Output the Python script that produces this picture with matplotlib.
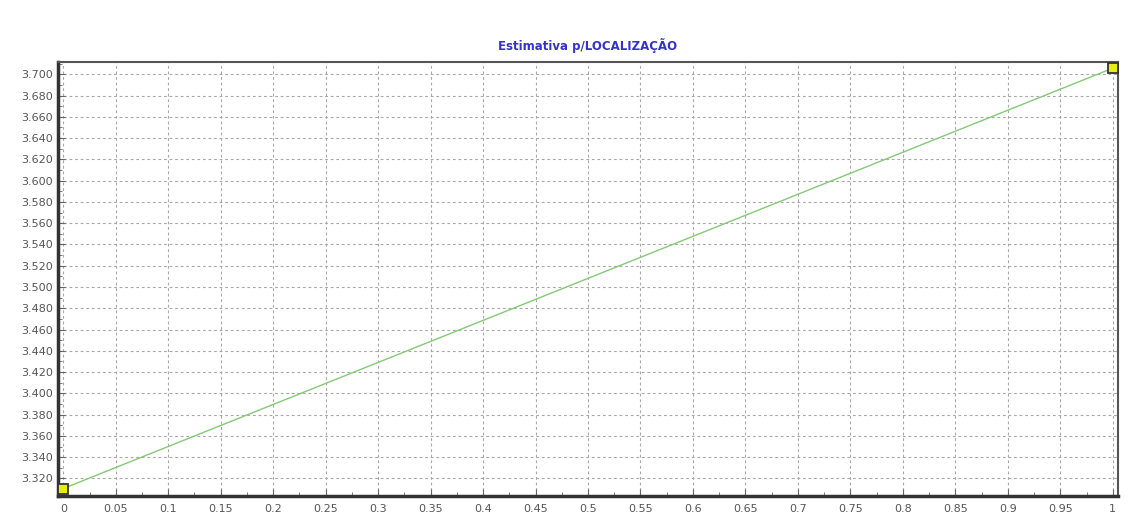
import numpy as np
import matplotlib.pyplot as plt
from matplotlib.ticker import MultipleLocator, FuncFormatter

# data
x_vals = [0.0, 1.0]
y_vals = [3.3105, 3.7057]
title = 'Estimativa p/LOCALIZAÇÃO'

fig = plt.figure(figsize=(11.31, 5.15), dpi=100)
ax = fig.add_axes([0.0513, 0.0369, 0.9372, 0.8427])

ax.plot(x_vals, y_vals, color='#86c878', lw=1.0, zorder=3)
ax.plot(x_vals, y_vals, ls='none', marker='s', ms=7.5, mfc='#e6ee10', mec='#333333', mew=1.3,
        zorder=4, clip_on=False)

ax.set_xlim(-0.005, 1.005)
ax.set_ylim(3.3035, 3.7115)

ax.xaxis.set_major_locator(MultipleLocator(0.05))
ax.xaxis.set_minor_locator(MultipleLocator(0.025))
ax.yaxis.set_major_locator(MultipleLocator(0.02))
ax.yaxis.set_minor_locator(MultipleLocator(0.01))
ax.xaxis.set_major_formatter(FuncFormatter(lambda v, p: ('%.2f' % v).rstrip('0').rstrip('.')))
ax.yaxis.set_major_formatter(FuncFormatter(lambda v, p: '%.3f' % v))

ax.grid(True, which='major', ls=(0, (2.5, 2.5)), color='#a8a8a8', lw=0.8)
ax.tick_params(which='both', direction='in', colors='#666666', labelsize=8, labelcolor='#555555')
ax.tick_params(which='major', length=5)
ax.tick_params(which='minor', length=3)
ax.tick_params(axis='x', pad=6)

for side in ['left', 'bottom']:
    ax.spines[side].set_linewidth(2.5)
    ax.spines[side].set_color('#333333')
for side in ['top', 'right']:
    ax.spines[side].set_linewidth(1.5)
    ax.spines[side].set_color('#555555')

ax.set_title(title, color='#3333cc', fontsize=8.5, fontweight='bold', pad=9)

fig.savefig('out.png', dpi=100)
